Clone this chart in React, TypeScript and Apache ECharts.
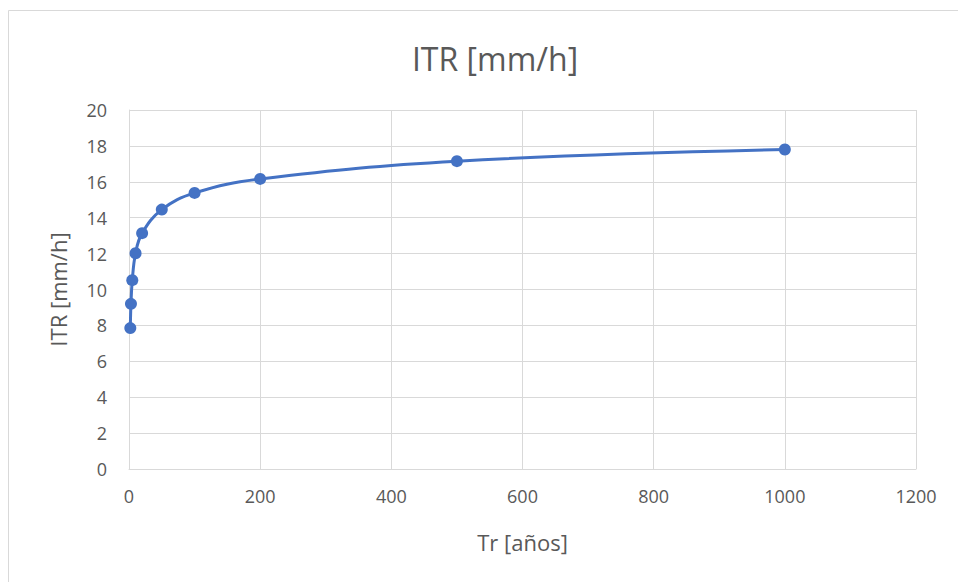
import React, { useEffect, useRef } from "react";
import * as echarts from "echarts";

const returnPeriods = [2, 3, 5, 10, 20, 50, 100, 200, 500, 1000];
const intensities = [7.85, 9.2, 10.52, 12.02, 13.14, 14.45, 15.38, 16.16, 17.15, 17.8];
const chartTitle = "ITR [mm/h]";
const xAxisTitle = "Tr [años]";
const yAxisTitle = "ITR [mm/h]";

const FONT = "Open Sans";
const TEXT = "#595959";
const GRID = "#d9d9d9";
const BLUE = "#4472C4";

export default function App() {
  const ref = useRef<HTMLDivElement>(null);
  useEffect(() => {
    if (!ref.current) return;
    const chart = echarts.init(ref.current, null, { renderer: "svg" });
    chart.setOption({
      animation: false,
      backgroundColor: "#ffffff",
      graphic: [
        {
          type: "rect",
          shape: { x: 8.5, y: 10.5, width: 1000, height: 1000 },
          style: { fill: "none", stroke: GRID, lineWidth: 1 },
          silent: true,
        },
      ],
      title: {
        text: chartTitle,
        left: 490,
        top: 37,
        textAlign: "center",
        textStyle: { fontFamily: FONT, fontSize: 32, fontWeight: "normal", color: TEXT },
      },
      grid: { left: 129, right: 42, top: 110, bottom: 113 },
      xAxis: {
        type: "value",
        min: 0,
        max: 1200,
        interval: 200,
        name: xAxisTitle,
        nameLocation: "middle",
        nameGap: 62,
        nameTextStyle: { fontFamily: FONT, fontSize: 22, color: TEXT },
        axisLine: { show: true, lineStyle: { color: GRID, width: 1 } },
        axisTick: { show: false },
        splitLine: { show: true, lineStyle: { color: GRID, width: 1 } },
        axisLabel: {
          fontFamily: FONT,
          fontSize: 18,
          color: TEXT,
          margin: 18,
          formatter: (v: number) => String(v),
        },
      },
      yAxis: {
        type: "value",
        min: 0,
        max: 20,
        interval: 2,
        name: yAxisTitle,
        nameLocation: "middle",
        nameGap: 60,
        nameRotate: 90,
        nameTextStyle: { fontFamily: FONT, fontSize: 22, color: TEXT },
        axisLine: { show: true, lineStyle: { color: GRID, width: 1 } },
        axisTick: { show: false },
        splitLine: { show: true, lineStyle: { color: GRID, width: 1 } },
        axisLabel: {
          fontFamily: FONT,
          fontSize: 18,
          color: TEXT,
          margin: 22,
          formatter: (v: number) => String(v),
        },
      },
      series: [
        {
          type: "line",
          data: returnPeriods.map((x, i) => [x, intensities[i]]),
          smooth: 0.4,
          symbol: "circle",
          symbolSize: 12,
          lineStyle: { color: BLUE, width: 3 },
          itemStyle: { color: BLUE },
        },
      ],
    });
    return () => chart.dispose();
  }, []);
  return (
    <div
      ref={ref}
      style={{ position: "absolute", left: 0, top: 0, width: 958, height: 582 }}
    />
  );
}
